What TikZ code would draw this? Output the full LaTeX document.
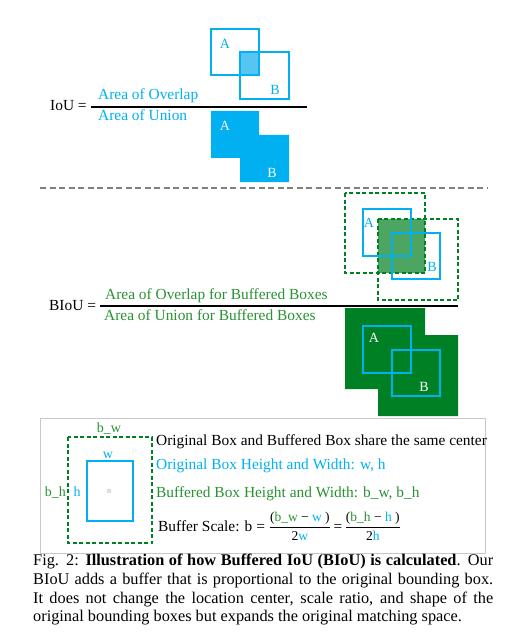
\documentclass[tikz,border=0pt]{standalone}
\usepackage{fontspec}
\setmainfont{Liberation Serif}
\usepackage{amsmath}
\definecolor{ioublue}{RGB}{0,176,240}
\definecolor{ioulight}{RGB}{85,198,242}
\definecolor{biougreen}{RGB}{0,128,36}
\definecolor{bioutext}{RGB}{40,145,50}
\definecolor{biouhalf}{RGB}{76,166,98}
\definecolor{sepgray}{RGB}{128,128,128}
\definecolor{framegray}{RGB}{200,200,200}

\begin{document}
\begin{tikzpicture}[x=1pt,y=-1pt,
  lbl/.style={inner sep=0pt,anchor=base west,font=\fontsize{15.4}{18}\selectfont},
  let/.style={inner sep=0pt,anchor=base,font=\fontsize{14}{16}\selectfont},
  org/.style={draw=ioublue,line width=1.2pt},
  buf/.style={draw=biougreen,line width=1.1pt,dash pattern=on 4pt off 2.5pt},
  fracline/.style={line width=1.4pt}]
\useasboundingbox (0,0) rectangle (511,639);

% IoU
\fill[ioulight] (240,52) rectangle (259,75);
\draw[org] (211,29) rectangle (259,75);
\draw[org] (240,52) rectangle (289,99);
\node[let,text=ioublue] (ta) at (225,48.3) {A};
\node[let,text=ioublue] (tb) at (275,95) {B};
\node[lbl] (iou) at (50,111) {IoU =};
\draw[fracline] (91,107) -- (307,107);
\node[lbl,text=ioublue] (ovl) at (98,100) {Area of Overlap};
\node[lbl,text=ioublue] (uni) at (98,120.5) {Area of Union};
\fill[ioublue] (211,111) rectangle (259,158) (240,135) rectangle (289,182);
\node[let,text=white] (ua) at (225,131) {A};
\node[let,text=white] (ub) at (272,177) {B};

\draw[sepgray,line width=1.2pt,dash pattern=on 6pt off 3.5pt] (40,188) -- (487,188);

% BIoU
\fill[biouhalf] (378,219) rectangle (425,273);
\draw[buf] (345,193) rectangle (425,273);
\draw[buf] (378,219) rectangle (458,300);
\draw[org] (363,209) rectangle (411,256);
\draw[org] (392,233) rectangle (440,279);
\node[let,text=ioublue] (ba) at (369,227) {A};
\node[let,text=ioublue] (bb) at (432,271) {B};
\node[lbl] (biou) at (49,310) {BIoU =};
\draw[fracline] (100,306) -- (458,306);
\node[lbl,text=bioutext] (bovl) at (105,299) {Area of Overlap for Buffered Boxes};
\node[lbl,text=bioutext] (buni) at (104,320) {Area of Union for Buffered Boxes};
\fill[biougreen] (345,308) rectangle (425,389) (378,335) rectangle (458,416);
\draw[org] (363,326) rectangle (411,373);
\draw[org] (392,350) rectangle (440,396);
\node[let,text=white] (bua) at (374,342) {A};
\node[let,text=white] (bub) at (424,391) {B};

% legend
\draw[framegray,line width=1pt] (40,418) rectangle (485,553);
\draw[buf] (68,437) rectangle (152,543);
\draw[org] (87,461) rectangle (133,521);
\filldraw[fill=gray!20,draw=gray!40] (109,491) circle (2pt);
\node[let,text=bioutext] (lbw) at (109,432) {b\_w};
\node[let,text=ioublue] (lw) at (108,458) {w};
\node[inner sep=0pt,anchor=base east,font=\fontsize{14}{16}\selectfont,text=bioutext] (lbh) at (66,496) {b\_h};
\node[let,text=ioublue] (lh) at (77,496) {h};
\node[lbl] (l1) at (156,445) {Original Box and Buffered Box share the same center};
\node[lbl,text=ioublue] (l2) at (156,469) {Original Box Height and Width: w, h};
\node[lbl,text=bioutext] (l3) at (156,497) {Buffered Box Height and Width: b\_w, b\_h};
\node[lbl] (l4) at (158,531) {Buffer Scale: b = $\dfrac{\mbox{\fontsize{13.5}{15}\selectfont(\textcolor{bioutext}{b\_w} − \textcolor{ioublue}{w} )}}{\mbox{\fontsize{13.5}{15}\selectfont 2\textcolor{ioublue}{w}}}\mbox{\,=\,}\dfrac{\mbox{\fontsize{13.5}{15}\selectfont(\textcolor{bioutext}{b\_h} − \textcolor{ioublue}{h} )}}{\mbox{\fontsize{13.5}{15}\selectfont 2\textcolor{ioublue}{h}}}$};

% caption
\node[inner sep=0pt,anchor=north west,text width=460pt,align=justify,font=\fontsize{16.3}{18.7}\selectfont] (cap) at (33,554) {Fig. 2: \textbf{Illustration of how Buffered IoU (BIoU) is calculated}. Our\linebreak BIoU adds a buffer that is proportional to the original bounding box.\linebreak It does not change the location center, scale ratio, and shape of the\linebreak original bounding boxes but expands the original matching space.};
\end{tikzpicture}
\end{document}
